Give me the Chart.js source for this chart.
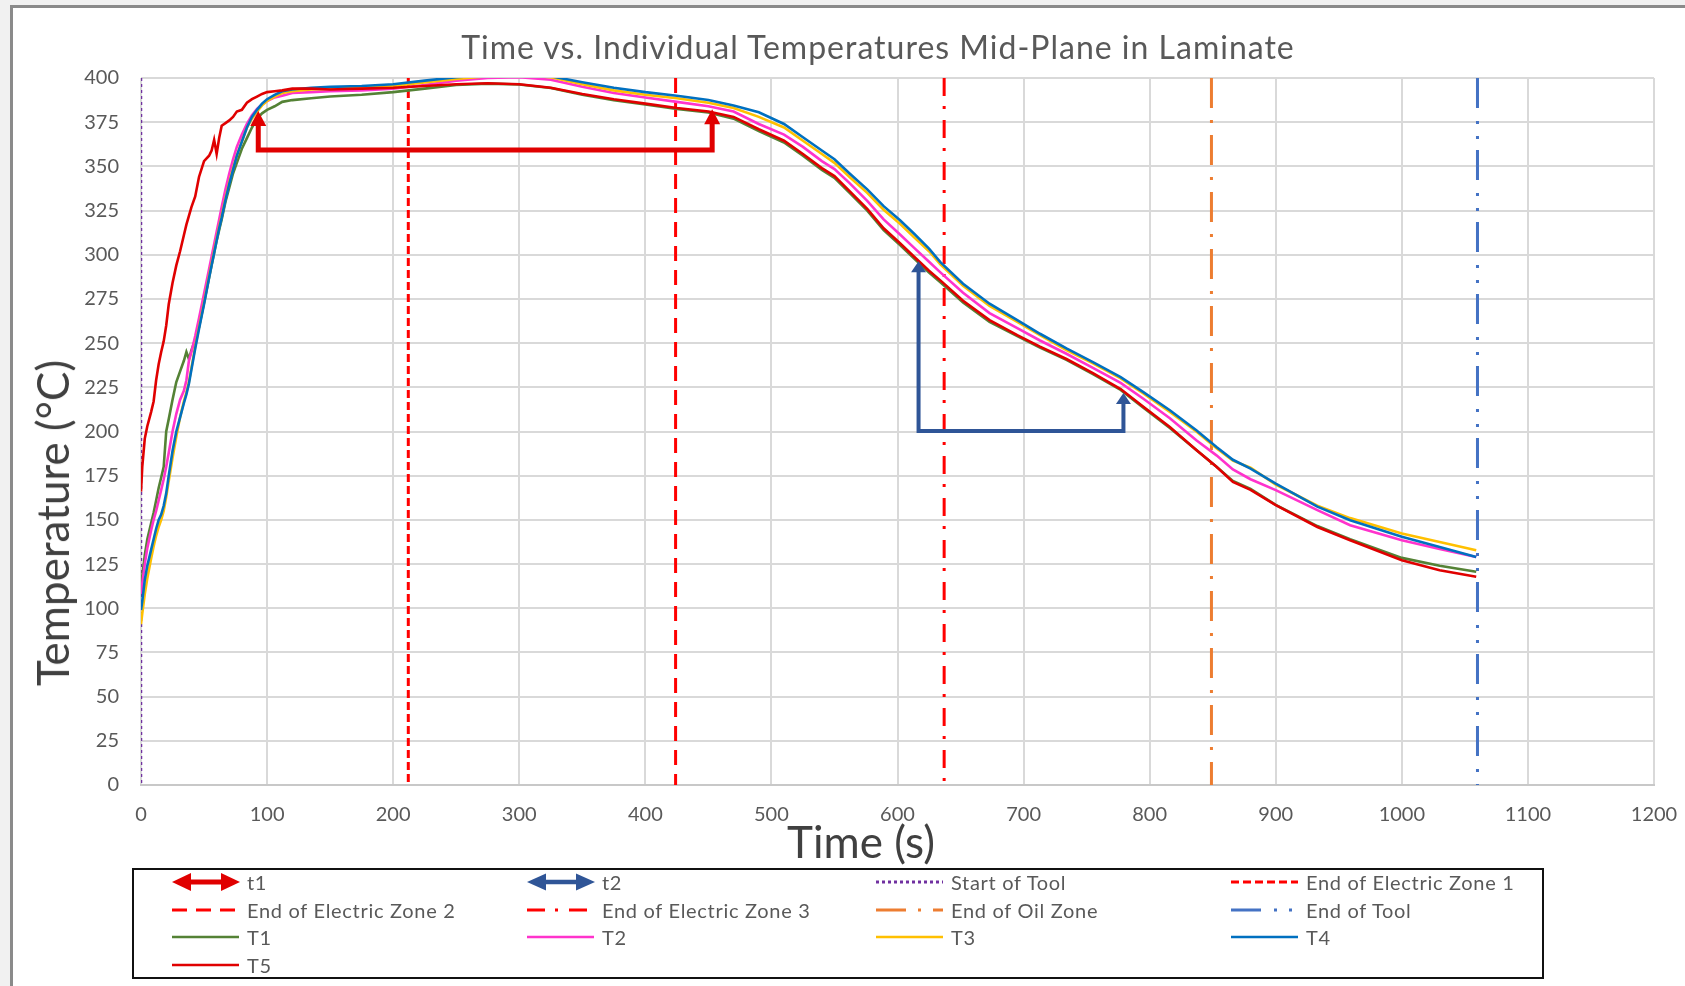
<!DOCTYPE html>
<html>
<head>
<meta charset="utf-8">
<title>Time vs. Individual Temperatures Mid-Plane in Laminate</title>
<script src="https://cdn.jsdelivr.net/npm/chart.js@4/dist/chart.umd.min.js"></script>
<style>
  html, body { margin: 0; padding: 0; }
  body { width: 1685px; height: 986px; overflow: hidden; position: relative; background: #f1f1f1; font-family: Lato, "Liberation Sans", sans-serif; }
  #frame { position: absolute; left: 10px; top: 5px; width: 1700px; height: 1000px; background: #fff; border: 3px solid #8a8a8a; box-sizing: border-box; }
  #chart { position: absolute; left: 0; top: 0; }
  .label { position: absolute; white-space: nowrap; transform: translate(-50%, -50%); line-height: 1; }
  #title { left: 878px; top: 47px; font-size: 32px; letter-spacing: 1px; color: #595959; }
  #xTitle { left: 861px; top: 841px; font-size: 44px; color: #404040; }
  #yTitle { left: 52px; top: 523px; font-size: 44px; color: #404040; transform: translate(-50%, -50%) rotate(-90deg); }
  #legend { position: absolute; left: 132px; top: 868px; width: 1412px; height: 111px; border: 2.5px solid #111; box-sizing: border-box; }
  .item { position: absolute; height: 24px; transform: translateY(-50%); }
  .item canvas { position: absolute; left: 0; top: 0; }
  .item span { position: absolute; top: 50%; transform: translateY(-50%); font-size: 20px; letter-spacing: 0.7px; color: #595959; white-space: nowrap; line-height: 1; }
</style>
</head>
<body>
<div id="frame"></div>
<canvas id="chart" width="1685" height="986"></canvas>
<div id="title" class="label">Time vs. Individual Temperatures Mid-Plane in Laminate</div>
<div id="xTitle" class="label">Time (s)</div>
<div id="yTitle" class="label">Temperature (°C)</div>
<div id="legend"></div>
<script>
// sample times (s), shared by the five thermocouple traces
const times = [0, 1, 3, 5, 8, 10, 12, 14, 16, 18, 20, 22, 25, 28, 31, 34, 36, 38, 40, 43,
  46, 50, 54, 56, 58, 60, 62, 64, 67, 70, 73, 76, 80, 84, 88, 92, 96, 100, 106, 112,
  120, 135, 150, 175, 200, 225, 250, 275, 300, 325, 350, 375, 400, 425, 450, 470, 490, 510, 525, 540,
  550, 562, 576, 589, 602, 613, 625, 634, 652, 673, 695, 713, 734, 755, 777, 795, 816, 837, 853, 866,
  880, 900, 933, 959, 1000, 1030, 1059];

// temperatures (°C)
const tempT1 = [112, 118, 130, 139, 148, 154, 161, 168, 174, 180, 200, 207, 218, 228, 234, 240, 245, 241, 246, 252,
  259, 273, 287, 294, 301, 308, 314, 320, 330, 338, 346, 352, 360, 366, 372, 377, 380, 382, 384, 386.5,
  387.5, 388.5, 389.5, 390.5, 392, 394, 396, 396.8, 396.3, 394.3, 390.5, 387.5, 385, 382.5, 380.5, 377, 370, 363.5, 356, 348,
  343.5, 335, 325, 314, 305.5, 298, 290, 284.5, 273, 262, 254, 247.5, 240.5, 232.5, 223.5, 213.5, 202, 189.5, 180, 172,
  167.5, 158.5, 146.5, 139, 128.5, 124, 120.6];
const tempT2 = [108, 114, 125, 134, 144, 150, 155, 161, 167, 173, 180, 188, 200, 210, 218, 223, 229, 240, 245, 254,
  264, 278, 292, 299, 306, 313, 320, 327, 337, 346, 354, 361, 368, 374, 379, 382.5, 385, 387, 389, 390,
  391.5, 392, 392.5, 393, 394, 396, 398.5, 400, 400.5, 399, 395, 391.5, 389, 386.5, 384, 381, 374, 368, 361, 353,
  348.5, 340.5, 330.5, 320, 311.5, 304, 296, 290, 278.5, 267, 258.5, 251.5, 244, 236, 227.5, 218.5, 207.5, 195, 186.5, 178.5,
  173, 166.8, 155.5, 147, 138.5, 133.5, 129];
const tempT3 = [91, 97, 108, 117, 128, 135, 141, 146, 150, 155, 163, 172, 185, 197, 208, 217, 222, 228, 236, 248,
  259, 273, 288, 295, 302, 309, 316, 322, 332, 341, 349, 356, 364, 372, 377, 381, 384.5, 387, 389.5, 391.5,
  392.5, 393.5, 394, 394.5, 395.5, 397.5, 399.5, 401, 401.5, 400.5, 396.5, 393, 390.5, 388.5, 386, 383, 378, 372, 364.5, 357,
  352, 344, 335, 325.5, 317.5, 310, 302, 294.5, 282.5, 271, 262, 254.5, 246, 238.5, 230, 221.5, 211, 200, 190.5, 183.5,
  179.5, 170, 158, 151, 142.3, 137.5, 132.8];
const tempT4 = [99, 104, 116, 124, 133, 139, 145, 150, 153, 158, 165, 175, 189, 200, 208, 216, 221, 227, 235, 247,
  258, 272, 287, 294, 301, 308, 315, 321, 331, 340, 348, 356, 364, 372, 378, 382, 385.5, 388, 390.5, 392.5,
  393.5, 394.5, 395, 395.5, 396.5, 398.5, 400.5, 401.5, 402, 401, 397.6, 394.5, 392, 390, 387.6, 384.4, 380.6, 374, 366.5, 359,
  354, 346, 337, 327.5, 319.5, 312, 303.5, 295.8, 283.6, 272.3, 263, 255.3, 247, 239.3, 230.8, 222.3, 212, 200.7, 191.2, 184,
  179, 170.5, 157.5, 149.8, 140.4, 134.7, 129];
const tempT5 = [166, 180, 196, 203, 211, 217, 229, 238, 245, 251, 260, 272, 284, 294, 302, 311, 317, 322, 327, 333,
  344, 353, 356, 359, 365, 357, 366, 373, 374.5, 376, 378, 381, 382, 386, 388, 389.5, 391, 392, 392.5, 393,
  394, 394, 393.5, 394, 394.5, 395.5, 396.5, 397, 396.5, 394.5, 391, 388, 385.5, 383, 381, 378, 371, 364.5, 357, 349,
  344.5, 336, 326, 315, 306.5, 299, 291, 285.5, 274, 263, 254.5, 248, 241, 233, 224, 214, 202.5, 189.5, 180, 171.5,
  167, 158.3, 146, 138.5, 127.2, 121.5, 117.8];

// process markers (vertical lines)
const markerNames = ['Start of Tool', 'End of Electric Zone 1', 'End of Electric Zone 2',
  'End of Electric Zone 3', 'End of Oil Zone', 'End of Tool'];
const markerTimes = [0, 212, 424, 637, 849, 1060];

// t1 / t2 brackets
const bracketT1Times = [93, 93, 453, 453];
const bracketT1Temps = [377.5, 359.3, 359.3, 378.5];
const bracketT2Times = [616.7, 616.7, 779.2, 779.2];
const bracketT2Temps = [293.5, 200.3, 200.3, 219];

// axis ticks
const xTicks = [0, 100, 200, 300, 400, 500, 600, 700, 800, 900, 1000, 1100, 1200];
const yTicks = [0, 25, 50, 75, 100, 125, 150, 175, 200, 225, 250, 275, 300, 325, 350, 375, 400];

const toPoints = (xs, ys) => xs.map((x, i) => ({ x: x, y: ys[i] }));

const traceStyle = [
  { label: 'T5', data: tempT5, color: '#e00000' },
  { label: 'T4', data: tempT4, color: '#0070c0' },
  { label: 'T3', data: tempT3, color: '#ffc000' },
  { label: 'T2', data: tempT2, color: '#ff33cc' },
  { label: 'T1', data: tempT1, color: '#548235' },
];

const markerStyle = [
  { color: '#7030a0', dash: [3, 3], width: 2.5 },
  { color: '#ff0000', dash: [8, 4], width: 3 },
  { color: '#ff0000', dash: [15, 9], width: 3 },
  { color: '#ff0000', dash: [18, 10, 3, 11], width: 3 },
  { color: '#ed7d31', dash: [30, 12, 3, 12], width: 3 },
  { color: '#4472c4', dash: [30, 13, 3, 12, 3, 11], width: 3 },
];

const datasets = [
  {
    label: 't1', data: toPoints(bracketT1Times, bracketT1Temps), borderColor: '#e00000',
    borderWidth: 5, pointRadius: 0, borderJoinStyle: 'miter', arrow: { w: 16, h: 15 }
  },
  {
    label: 't2', data: toPoints(bracketT2Times, bracketT2Temps), borderColor: '#2f5597',
    borderWidth: 4, pointRadius: 0, borderJoinStyle: 'miter', arrow: { w: 15, h: 11 }
  },
];
traceStyle.forEach(s => {
  datasets.push({
    label: s.label, data: toPoints(times, s.data), borderColor: s.color,
    borderWidth: 2.6, pointRadius: 0, tension: 0
  });
});
markerNames.forEach((name, i) => {
  const st = markerStyle[i];
  datasets.push({
    label: name,
    data: toPoints([markerTimes[i], markerTimes[i]], [400, 0]),
    borderColor: st.color, borderWidth: st.width, borderDash: st.dash, pointRadius: 0
  });
});

// up-pointing arrow heads on both ends of the bracket datasets
const arrowHeads = {
  id: 'arrowHeads',
  afterDatasetsDraw(chart) {
    const ctx = chart.ctx;
    chart.data.datasets.forEach((ds, i) => {
      if (!ds.arrow) return;
      const pts = chart.getDatasetMeta(i).data;
      [pts[0], pts[pts.length - 1]].forEach(p => {
        const w = ds.arrow.w, h = ds.arrow.h;
        ctx.save();
        ctx.fillStyle = ds.borderColor;
        ctx.beginPath();
        ctx.moveTo(p.x, p.y - h * 0.45);
        ctx.lineTo(p.x - w / 2, p.y + h * 0.55);
        ctx.lineTo(p.x + w / 2, p.y + h * 0.55);
        ctx.closePath();
        ctx.fill();
        ctx.restore();
      });
    });
  }
};

const tickFont = { family: 'Lato, "Liberation Sans", sans-serif', size: 20 };

new Chart(document.getElementById('chart'), {
  type: 'line',
  data: { datasets: datasets },
  options: {
    responsive: false,
    animation: false,
    devicePixelRatio: 1,
    layout: { padding: { top: 78, right: 31, bottom: 121, left: 0 } },
    plugins: { legend: { display: false }, tooltip: { enabled: false }, title: { display: false } },
    scales: {
      x: {
        type: 'linear', min: 0, max: 1200,
        afterBuildTicks: s => { s.ticks = xTicks.map(v => ({ value: v })); },
        afterFit: s => { s.height = 80; s.paddingLeft = 0; s.paddingRight = 0; },
        grid: { color: '#d9d9d9', lineWidth: 2, drawTicks: false },
        border: { color: '#c8c8c8', width: 2 },
        ticks: {
          padding: 18, font: tickFont, color: '#595959', maxRotation: 0, autoSkip: false,
          callback: v => String(v)
        }
      },
      y: {
        type: 'linear', min: 0, max: 400,
        afterBuildTicks: s => { s.ticks = yTicks.map(v => ({ value: v })); },
        afterFit: s => { s.width = 141; s.paddingTop = 0; s.paddingBottom = 0; },
        grid: { color: '#d9d9d9', lineWidth: 2, drawTicks: false },
        border: { display: false },
        ticks: { padding: 22, font: tickFont, color: '#595959', autoSkip: false, callback: v => String(v) }
      }
    }
  },
  plugins: [arrowHeads]
});

// legend, 4 columns like the original
const legendCols = [172, 527, 876, 1231];
const legendRows = [882, 910, 937, 965];
const legendOrder = ['t1', 't2', 'Start of Tool', 'End of Electric Zone 1',
  'End of Electric Zone 2', 'End of Electric Zone 3', 'End of Oil Zone', 'End of Tool',
  'T1', 'T2', 'T3', 'T4', 'T5'];

function drawSwatch(cv, ds) {
  const c = cv.getContext('2d');
  const y = cv.height / 2;
  c.strokeStyle = ds.borderColor;
  c.fillStyle = ds.borderColor;
  if (ds.arrow) {
    const hw = ds.label === 't1' ? 9 : 8.5;
    c.lineWidth = ds.label === 't1' ? 5 : 4.5;
    c.beginPath(); c.moveTo(14, y); c.lineTo(54, y); c.stroke();
    c.beginPath(); c.moveTo(0, y); c.lineTo(19, y - hw); c.lineTo(19, y + hw); c.closePath(); c.fill();
    c.beginPath(); c.moveTo(68, y); c.lineTo(49, y - hw); c.lineTo(49, y + hw); c.closePath(); c.fill();
    return;
  }
  c.lineWidth = ds.borderDash ? 3 : 2.5;
  c.setLineDash(ds.borderDash || []);
  c.beginPath(); c.moveTo(0, y); c.lineTo(67, y); c.stroke();
}

legendOrder.forEach((name, k) => {
  const ds = datasets.find(d => d.label === name);
  const item = document.createElement('div');
  item.className = 'item';
  item.style.left = legendCols[k % 4] + 'px';
  item.style.top = legendRows[Math.floor(k / 4)] + 'px';
  const cv = document.createElement('canvas');
  cv.width = 68; cv.height = 24;
  const span = document.createElement('span');
  span.textContent = name;
  span.style.left = '75px';
  item.appendChild(cv);
  item.appendChild(span);
  document.body.appendChild(item);
  drawSwatch(cv, ds);
});
</script>
</body>
</html>
